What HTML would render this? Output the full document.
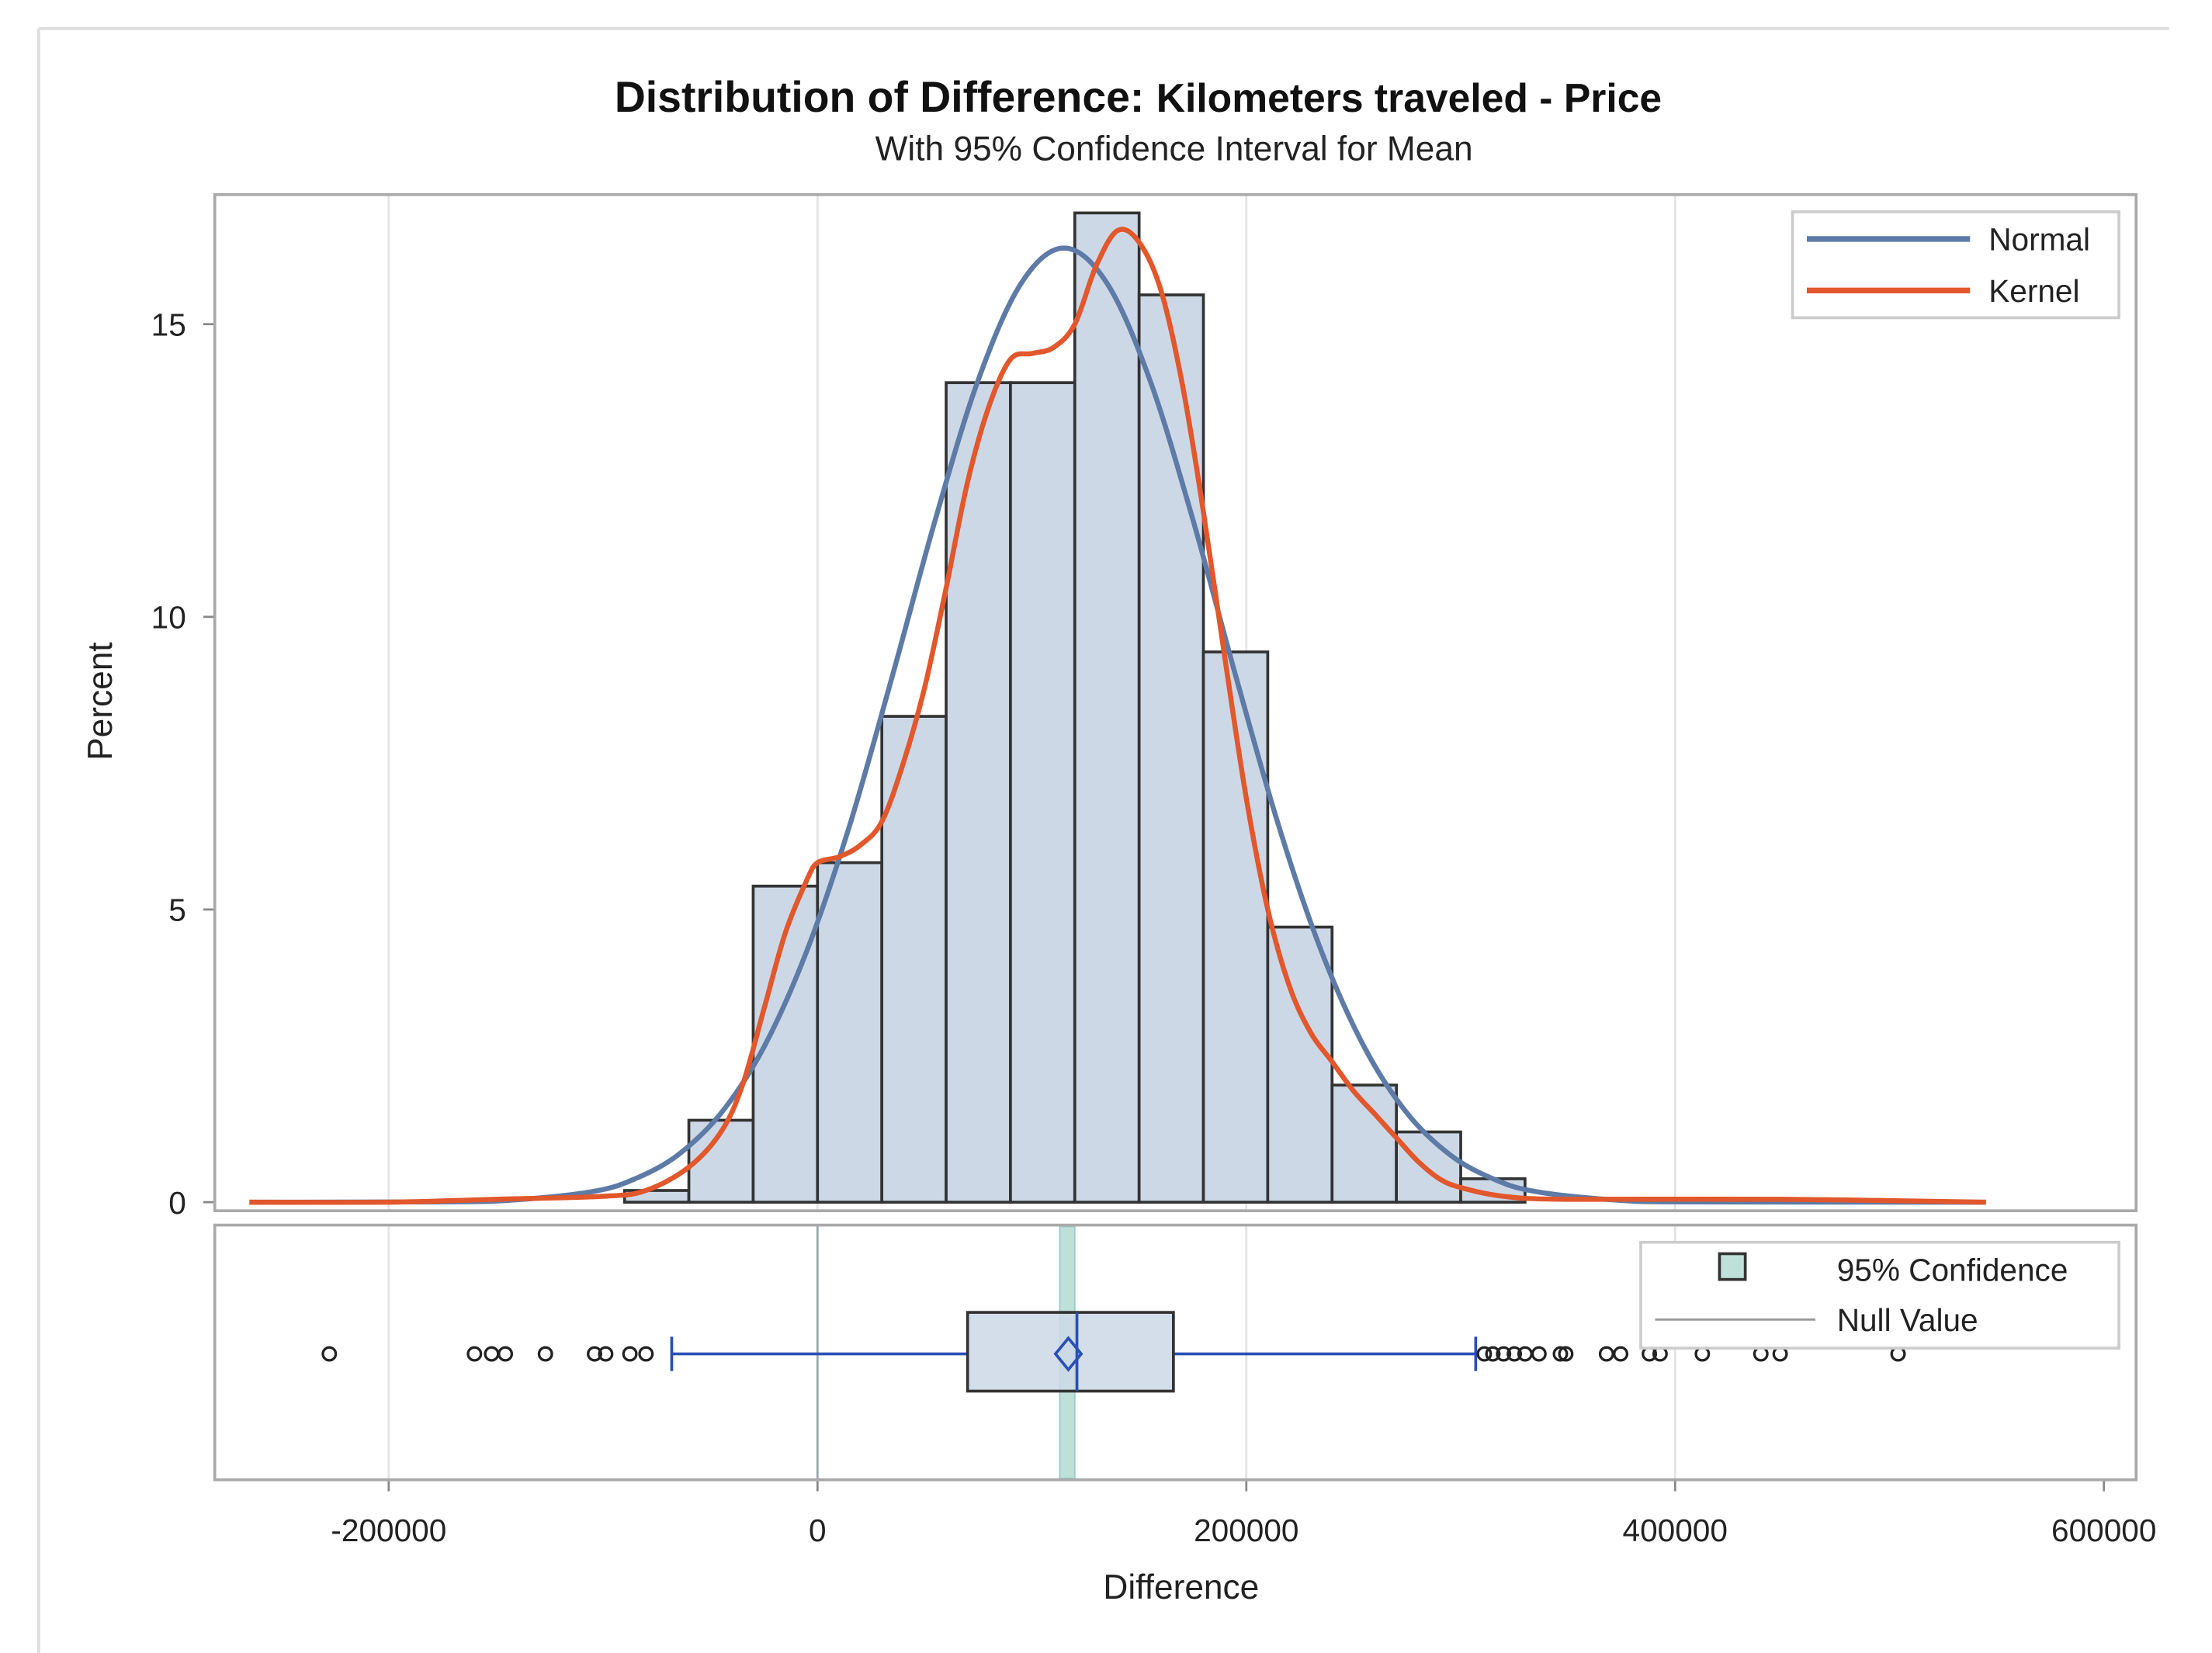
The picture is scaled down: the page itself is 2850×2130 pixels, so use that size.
<!DOCTYPE html>
<html><head><meta charset="utf-8"><style>
html,body{margin:0;padding:0;background:#fff;}
svg{display:block;font-family:"Liberation Sans",sans-serif;}
</style></head><body>
<svg id="chart" width="2850" height="2130" viewBox="0 0 1545 1155" preserveAspectRatio="none" xmlns="http://www.w3.org/2000/svg">
<rect width="1545" height="1155" fill="#fff"/>
<line x1="27" y1="20" x2="27" y2="1155" stroke="#ddd" stroke-width="2"/>
<line x1="27" y1="20" x2="1515" y2="20" stroke="#ddd" stroke-width="2"/>
<text x="795" y="78" text-anchor="middle" font-size="30" font-weight="bold" fill="#111">Distribution of Difference: <tspan font-size="28">Kilometers traveled - Price</tspan></text>
<text x="820" y="112" text-anchor="middle" font-size="24" fill="#222">With 95% Confidence Interval for Mean</text>
<g id="grid"></g>
<g id="bars"></g>
<g id="curves"></g>
<g id="box"></g>
<g id="axes"></g>
<rect x="150" y="136" width="1342" height="710" fill="none" stroke="#aaa" stroke-width="2"/>
<rect x="150" y="856" width="1342" height="178" fill="none" stroke="#aaa" stroke-width="2"/>
<g>
<rect x="1252" y="148" width="228" height="74" fill="#fff" stroke="#ccc" stroke-width="2"/>
<line x1="1262" y1="167" x2="1376" y2="167" stroke="#5d7ba6" stroke-width="4"/>
<text x="1389" y="175" font-size="22" fill="#222">Normal</text>
<line x1="1262" y1="203" x2="1376" y2="203" stroke="#e2572c" stroke-width="4"/>
<text x="1389" y="211" font-size="22" fill="#222">Kernel</text>
</g>
<g>
<rect x="1146" y="868" width="334" height="74" fill="#fff" stroke="#ccc" stroke-width="2"/>
<rect x="1201" y="876" width="18" height="18" fill="#bfe0d8" stroke="#333" stroke-width="2"/>
<text x="1283" y="895" font-size="22" fill="#222">95% Confidence</text>
<line x1="1156" y1="922" x2="1268" y2="922" stroke="#999" stroke-width="1.5"/>
<text x="1283" y="930" font-size="22" fill="#222">Null Value</text>
</g>
<text x="825" y="1117" text-anchor="middle" font-size="24" fill="#222">Difference</text>
<text x="0" y="0" transform="translate(78,490) rotate(-90)" text-anchor="middle" font-size="24" fill="#222">Percent</text>
</svg>
<script>
const binStarts=[-90000,-60000,-30000,0,30000,60000,90000,120000,150000,180000,210000,240000,270000,300000];
const binPercents=[0.2,1.4,5.4,5.8,8.3,14.0,14.0,16.9,15.5,9.4,4.7,2.0,1.2,0.4];
const binWidth=30000;
const normalX=[-265,-185,-145,-105,-85,-65,-45,-25,-5,15,35,55,75,95,115,135,155,175,195,215,235,255,275,295,315,335,375,415,545];
const normalY=[0,0.004,0.03,0.18,0.40,0.81,1.52,2.65,4.29,6.44,9.0,11.67,14.05,15.7,16.3,15.7,14.05,11.67,9.0,6.44,4.29,2.65,1.52,0.81,0.40,0.18,0.03,0.004,0];
const kernelX=[-265,-200,-150,-100,-80,-60,-45,-35,-25,-15,-5,0,10,20,30,40,50,60,70,80,90,100,110,120,130,140,150,160,170,180,190,200,210,220,230,240,250,260,270,280,290,300,320,350,450,545];
const kernelY=[0,0,0.05,0.1,0.2,0.6,1.2,2.0,3.3,4.6,5.5,5.8,5.9,6.1,6.5,7.5,8.8,10.5,12.3,13.6,14.4,14.5,14.6,15.0,16.0,16.6,16.4,15.6,14.0,11.8,9.3,6.9,5.0,3.7,2.9,2.4,1.9,1.5,1.1,0.7,0.4,0.25,0.1,0.05,0.05,0];
const xTicks=[-200000,0,200000,400000,600000];
const yTicks=[0,5,10,15];
const boxStats=[70000,121000,166000];
const whiskers=[-68000,307000];
const meanValue=117000;
const ciBounds=[113000,120000];
const nullValue=0;
const outliers=[-227700,-160000,-152000,-145600,-126900,-104000,-98800,-87500,-80000,311000,315000,320000,325000,330000,336500,346500,349000,368000,374600,388000,393000,412700,440000,449000,504000];

const NS='http://www.w3.org/2000/svg';
const X=v=>571+(v/200000)*299.5;
const Y=v=>840-v*40.9;
function mk(t,a,p){const e=document.createElementNS(NS,t);for(const k in a)e.setAttribute(k,a[k]);p.appendChild(e);return e;}
const grid=document.getElementById('grid'),bars=document.getElementById('bars'),curves=document.getElementById('curves'),box=document.getElementById('box'),axes=document.getElementById('axes');
xTicks.forEach(t=>{
  if(t>-270000&&t<600000){
    const g1=mk('line',{x1:X(t),x2:X(t),y1:137,y2:845,stroke:'#e3e3e3','stroke-width':1.5},grid);
    
    
    const g2=mk('line',{x1:X(t),x2:X(t),y1:857,y2:1033,stroke:'#e3e3e3','stroke-width':1.5},grid);
    
    
  }
  const tk=mk('line',{x1:X(t),x2:X(t),y1:1034,y2:1042,stroke:'#888','stroke-width':1.5},axes);
  
  
  const tx=mk('text',{x:X(t),y:1077,'text-anchor':'middle','font-size':22,fill:'#222'},axes);
  tx.textContent=String(t);
  
  
});
yTicks.forEach(t=>{
  const tk=mk('line',{x1:142,x2:150,y1:Y(t),y2:Y(t),stroke:'#888','stroke-width':1.5},axes);
  
  
  const tx=mk('text',{x:130,y:Y(t)+8,'text-anchor':'end','font-size':22,fill:'#222'},axes);
  tx.textContent=String(t);
  
  
});
binStarts.forEach((s,i)=>{
  const r=mk('rect',{x:X(s),y:Y(binPercents[i]),width:X(s+binWidth)-X(s),height:Y(0)-Y(binPercents[i]),fill:'#cdd8e7',stroke:'#333','stroke-width':2},bars);
  
  
});
function path(xs,ys){
  const p=xs.map((x,i)=>[X(x*1000),Y(ys[i])]);
  let d='M'+p[0][0].toFixed(1)+','+p[0][1].toFixed(1);
  for(let i=0;i<p.length-1;i++){
    const p0=p[Math.max(0,i-1)],p1=p[i],p2=p[i+1],p3=p[Math.min(p.length-1,i+2)];
    const c1x=p1[0]+(p2[0]-p0[0])/6,c1y=p1[1]+(p2[1]-p0[1])/6;
    const c2x=p2[0]-(p3[0]-p1[0])/6,c2y=p2[1]-(p3[1]-p1[1])/6;
    d+=` C${c1x.toFixed(1)},${c1y.toFixed(1)} ${c2x.toFixed(1)},${c2y.toFixed(1)} ${p2[0].toFixed(1)},${p2[1].toFixed(1)}`;
  }
  return d;
}
const nl=mk('path',{d:path(normalX,normalY),fill:'none',stroke:'#5d7ba6','stroke-width':3.5,'stroke-linejoin':'round'},curves);


const kl=mk('path',{d:path(kernelX,kernelY),fill:'none',stroke:'#e2572c','stroke-width':3.5,'stroke-linejoin':'round'},curves);


const cy=946;
const nv=mk('line',{x1:X(nullValue),x2:X(nullValue),y1:857,y2:1033,stroke:'#9aa','stroke-width':1.5},box);


const ci=mk('rect',{x:X(ciBounds[0]),y:857,width:X(ciBounds[1])-X(ciBounds[0]),height:176,fill:'#bfe0d8',stroke:'#9cc','stroke-width':1},box);


const wl=mk('line',{x1:X(whiskers[0]),x2:X(boxStats[0]),y1:cy,y2:cy,stroke:'#2a4fb5','stroke-width':2},box);


const wr=mk('line',{x1:X(boxStats[2]),x2:X(whiskers[1]),y1:cy,y2:cy,stroke:'#2a4fb5','stroke-width':2},box);


whiskers.forEach(w=>{
  const c=mk('line',{x1:X(w),x2:X(w),y1:cy-12,y2:cy+12,stroke:'#2a4fb5','stroke-width':2},box);
  
  
});
const bx=mk('rect',{x:X(boxStats[0]),y:917,width:X(boxStats[2])-X(boxStats[0]),height:55,fill:'rgba(205,216,231,0.85)',stroke:'#333','stroke-width':2},box);


const md=mk('line',{x1:X(boxStats[1]),x2:X(boxStats[1]),y1:917,y2:972,stroke:'#2a4fb5','stroke-width':2},box);


const mx=X(meanValue);
const dm=mk('path',{d:`M${mx-9},${cy} L${mx},${cy-11} L${mx+9},${cy} L${mx},${cy+11} Z`,fill:'none',stroke:'#2a4fb5','stroke-width':2},box);


outliers.forEach(o=>{
  const c=mk('circle',{cx:X(o),cy:cy,r:4.5,fill:'none',stroke:'#222','stroke-width':1.8},box);
  
  
});
</script>
</body></html>
